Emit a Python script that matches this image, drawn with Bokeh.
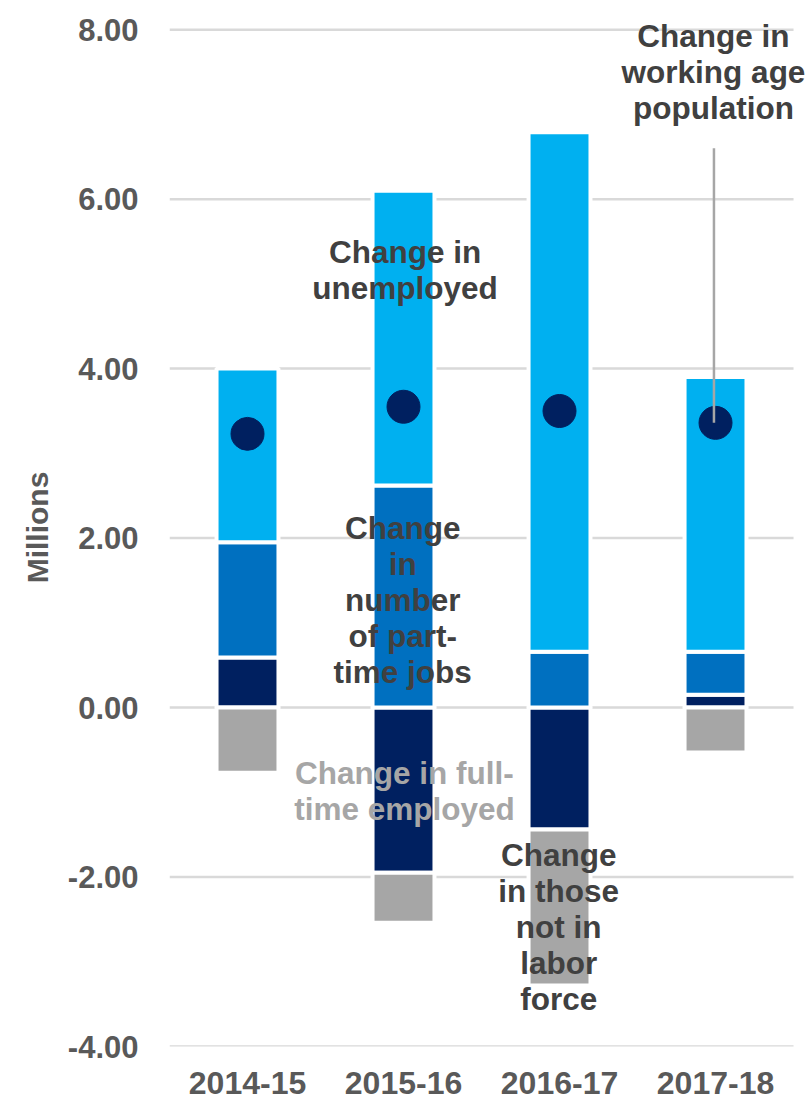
from bokeh.plotting import figure
from bokeh.models import Range1d, FixedTicker, NumeralTickFormatter
from bokeh.core.properties import value
from bokeh.embed import file_html
from bokeh.resources import INLINE

# Labour-market changes by fiscal year, millions
years = ["2014-15", "2015-16", "2016-17", "2017-18"]
full_time = [0.59, -1.95, -1.44, 0.15]
part_time = [1.36, 2.62, 0.66, 0.51]
unemployed = [2.05, 3.48, 6.13, 3.24]
not_in_lf = [-0.77, -0.59, -1.84, -0.53]
working_age = [3.23, 3.55, 3.50, 3.36]
y_ticks = [-4, -2, 0, 2, 4, 6, 8]

series = [
    ("Change in full-time employed", full_time, "#002060"),
    ("Change in number of part-time jobs", part_time, "#0070C0"),
    ("Change in unemployed", unemployed, "#00B0F0"),
    ("Change in those not in labor force", not_in_lf, "#A6A6A6"),
]

FONT = "Liberation Sans"
TICK_COLOR = "#595959"
TEXT_COLOR = "#404040"

p = figure(width=808, height=1100, output_backend="svg", toolbar_location=None,
           x_range=Range1d(-0.5, 3.596), y_range=Range1d(-4, 8.25),
           min_border_left=169, min_border_right=0, min_border_top=8,
           min_border_bottom=54)
p.outline_line_color = None
p.background_fill_color = "white"
p.border_fill_color = "white"
p.xgrid.visible = False
p.ygrid.visible = False

# Horizontal gridlines spanning the category area only
xs = list(range(len(years)))
p.segment(x0=[-0.5] * len(y_ticks), x1=[3.5] * len(y_ticks), y0=y_ticks, y1=y_ticks,
          line_color="#D9D9D9", line_width=2.5)

# Stacked bars: positives stack upward from zero, negatives downward
pos_base = [0.0] * len(years)
neg_base = [0.0] * len(years)
for name, vals, color in series:
    bottoms, tops = [], []
    for i, v in enumerate(vals):
        if v >= 0:
            bottoms.append(pos_base[i]); tops.append(pos_base[i] + v); pos_base[i] += v
        else:
            bottoms.append(neg_base[i]); tops.append(neg_base[i] + v); neg_base[i] += v
    p.vbar(x=xs, width=0.397, bottom=bottoms, top=tops, fill_color=color,
           line_color="white", line_width=4)

# Working-age population total
p.scatter(x=xs, y=working_age, size=33, fill_color="#002060", line_color="#002060")

# Leader line from the working-age label to the last point
p.segment(x0=[3 - 0.01], x1=[3 - 0.01], y0=[6.6], y1=[working_age[3]],
          line_color="#A6A6A6", line_width=2.5)

# Series annotations
labels = [
    ("Change in\nunemployed", 1.01, 5.16, TEXT_COLOR),
    ("Change\nin\nnumber\nof part-\ntime jobs", 0.995, 1.27, TEXT_COLOR),
    ("Change in full-\ntime employed", 1.006, -0.98, "#A6A6A6"),
    ("Change\nin those\nnot in\nlabor\nforce", 1.995, -2.59, TEXT_COLOR),
    ("Change in\nworking age\npopulation", 2.987, 7.50, TEXT_COLOR),
]
p.text(x=[l[1] for l in labels], y=[l[2] for l in labels], text=[l[0] for l in labels],
       text_color=[l[3] for l in labels], text_font=value(FONT), text_font_style="bold",
       text_font_size="31.5px", text_align="center", text_baseline="middle",
       text_line_height=1.0)

# Axes
p.yaxis.ticker = FixedTicker(ticks=y_ticks)
p.yaxis.formatter = NumeralTickFormatter(format="0.00")
p.xaxis.ticker = FixedTicker(ticks=xs)
p.xaxis.major_label_overrides = {i: y for i, y in enumerate(years)}
for ax in (p.xaxis[0], p.yaxis[0]):
    ax.axis_line_color = None
    ax.major_tick_line_color = None
    ax.minor_tick_line_color = None
    ax.major_label_text_font = FONT
    ax.major_label_text_font_style = "bold"
    ax.major_label_text_color = TICK_COLOR
p.yaxis.major_label_text_font_size = "31px"
p.xaxis.major_label_text_font_size = "32px"
p.yaxis.major_label_standoff = 25
p.xaxis.major_label_standoff = 19
p.yaxis.axis_label = "Millions"
p.yaxis.axis_label_text_font = FONT
p.yaxis.axis_label_text_font_style = "bold"
p.yaxis.axis_label_text_font_size = "30px"
p.yaxis.axis_label_text_color = TICK_COLOR
p.yaxis.axis_label_standoff = 11

open("out.html", "w").write(file_html(p, INLINE))
